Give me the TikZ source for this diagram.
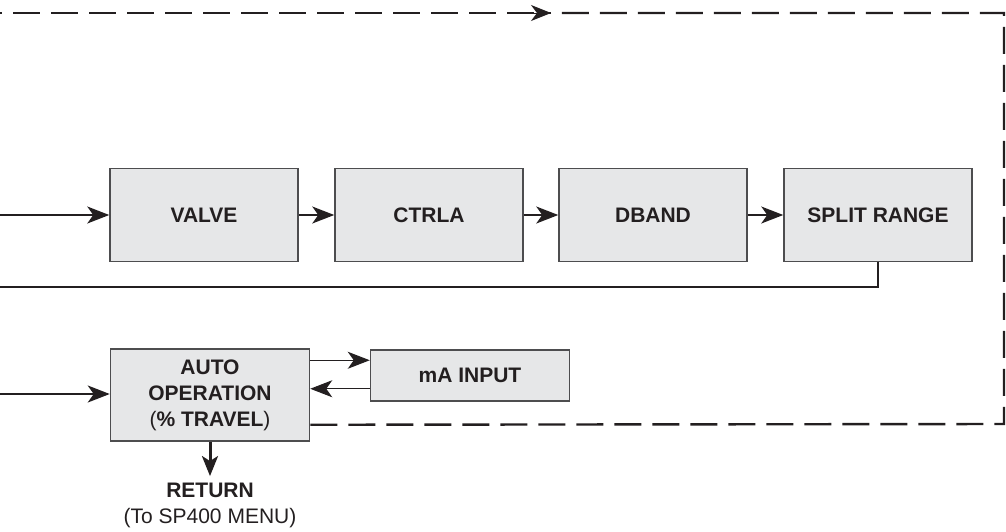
\documentclass[tikz,border=0pt]{standalone}
\usepackage{fontspec}
\setmainfont{Liberation Sans}
\usetikzlibrary{arrows.meta,positioning}
\definecolor{ink}{HTML}{231F20}
\definecolor{boxfill}{HTML}{E6E7E8}
\definecolor{boxline}{HTML}{4D4D4F}
\tikzset{
  blk/.style={draw=boxline, line width=1.5pt, fill=boxfill, minimum width=188pt, minimum height=93pt, inner sep=0pt, align=center, font=\fontsize{21}{26}\selectfont\bfseries, text=ink},
  conn/.style={draw=ink, line width=1.5pt},
  tip/.style={-{Stealth[length=22pt,width=17pt,inset=6pt]}},
  dsh/.style={draw=ink, line width=2.4pt, dash pattern=on 27pt off 11pt},
}
\begin{document}
\begin{tikzpicture}[x=1pt,y=-1pt]
\useasboundingbox (0,0) rectangle (1006,531);
\node[blk] (valve) at (204,215) {VALVE};
\node[blk] (ctrla) at (429,215) {CTRLA};
\node[blk] (dband) at (653,215) {DBAND};
\node[blk] (split) at (878,215) {SPLIT RANGE};
\node[blk, minimum width=199pt, minimum height=92pt] (auto) at (210,395) {AUTO\\OPERATION\\{\mdseries(}\% TRAVEL{\mdseries)}};
\node[blk, minimum width=199pt, minimum height=51pt] (ma) at (470,375.5) {mA INPUT};
\node[align=center, font=\fontsize{21}{26}\selectfont, text=ink] (ret) at (210,505) {\textbf{RETURN}\\(To SP400 MENU)};

\coordinate (inv) at (0,215);
\coordinate (fb) at (0,287);
\coordinate (ina) at (0,394);
\coordinate (tl) at (0,13);
\coordinate (tm) at (551,13);
\coordinate (tr) at (1004,13);
\coordinate (br) at (1004,424);

\draw[conn,tip] (inv) -- (valve.west);
\draw[conn,tip] (valve.east) -- (ctrla.west);
\draw[conn,tip] (ctrla.east) -- (dband.west);
\draw[conn,tip] (dband.east) -- (split.west);
\draw[conn] (split.south) |- (fb);
\draw[conn,line width=2pt,tip] (ina) -- (auto.west |- ina);
\draw[conn,line width=1pt,tip] ([yshift=-12pt]auto.north east) -- ([yshift=-11pt]ma.north west);
\draw[conn,line width=1pt,tip] ([yshift=13pt]ma.south west) -- ([yshift=13pt]auto.south east |- ma.south west);
\draw[conn,line width=3pt,-{Stealth[length=20pt,width=16pt,inset=5pt]}] (auto.south) -- ([yshift=3pt]ret.north);

\draw[dsh, dash phase=-13pt] (tl) -- (tm);
\draw[draw=ink, -{Stealth[length=20pt,width=16pt,inset=6pt]}, line width=1pt] ([xshift=-20pt]tm) -- (tm);
\draw[dsh] ([yshift=17pt]auto.south east) -- (br) -- (tr) -- (tm);
\end{tikzpicture}
\end{document}
